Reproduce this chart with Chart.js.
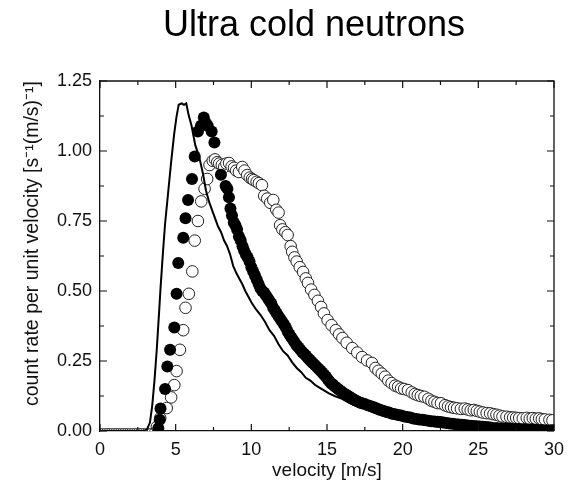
<!DOCTYPE html>
<html>
<head>
<meta charset="utf-8">
<script src="https://cdn.jsdelivr.net/npm/chart.js@4.4.1/dist/chart.umd.min.js"></script>
<style>
  html, body { margin: 0; padding: 0; background: #fff; }
  #wrap { width: 572px; height: 495px; }
</style>
</head>
<body>
<div id="wrap"><canvas id="chart"></canvas></div>
<script>
const TITLE = 'Ultra cold neutrons';
const X_TITLE = 'velocity [m/s]';
const Y_TITLE = 'count rate per unit velocity [s\u207B\u00B9(m/s)\u207B\u00B9]';

// solid curve
const lineVelocity = [0, 2.9, 3.1, 3.3, 3.45, 3.6, 3.75, 3.9, 4.0, 4.15, 4.3, 4.5, 4.7, 4.9, 5.05, 5.2, 5.4, 5.55, 5.7, 5.85,
  6.05, 6.3, 6.55, 6.8, 7.0, 7.2, 7.4, 7.6, 7.8, 8.0, 8.2, 8.4, 8.6, 8.8, 9.0, 9.2, 9.4, 9.6, 9.8, 10.0,
  10.3, 10.6, 10.9, 11.2, 11.5, 11.8, 12.1, 12.4, 12.7, 13.0, 13.3, 13.6, 13.9, 14.2, 14.5, 14.8, 15.1, 15.5, 16.0, 16.5,
  17.0, 17.5, 18.0, 18.5, 19.0, 20, 21, 22, 23, 24, 25, 26];
const lineRate = [0, 0, 0.005, 0.03, 0.09, 0.18, 0.29, 0.42, 0.51, 0.63, 0.74, 0.85, 0.96, 1.06, 1.12, 1.165, 1.17, 1.165, 1.17, 1.13,
  1.09, 1.02, 0.98, 0.92, 0.86, 0.82, 0.79, 0.76, 0.73, 0.71, 0.68, 0.66, 0.63, 0.59, 0.565, 0.545, 0.525, 0.50, 0.48, 0.46,
  0.435, 0.415, 0.39, 0.36, 0.34, 0.31, 0.285, 0.27, 0.245, 0.225, 0.21, 0.19, 0.18, 0.165, 0.155, 0.145, 0.135, 0.125, 0.115, 0.10,
  0.09, 0.08, 0.068, 0.058, 0.05, 0.038, 0.027, 0.018, 0.012, 0.007, 0.003, 0];

// filled circles
const filledVelocity = [3.85, 3.95, 4.0, 4.3, 4.45, 4.63, 4.91, 5.06, 5.17, 5.5, 5.65, 5.82, 6.08, 6.26, 6.47, 6.67, 6.86, 7.0, 7.12, 7.38,
  7.56, 7.99, 8.3, 8.42, 8.52, 8.62, 8.72, 8.84, 8.95, 9.06, 9.18, 9.3, 9.42, 9.52, 9.64, 9.76, 9.88, 10.0, 10.12, 10.24,
  10.36, 10.48, 10.6, 10.72, 10.84, 10.96, 11.08, 11.2, 11.32, 11.44, 11.56, 11.68, 11.8, 11.92, 12.04, 12.16, 12.28, 12.4, 12.52, 12.64,
  12.76, 12.88, 13.0, 13.12, 13.24, 13.36, 13.48, 13.6, 13.72, 13.84, 13.96, 14.08, 14.2, 14.32, 14.44, 14.56, 14.68, 14.8, 14.92, 15.04,
  15.16, 15.28, 15.4, 15.52, 15.64, 15.76, 15.88, 16.0, 16.12, 16.24, 16.36, 16.48, 16.6, 16.72, 16.84, 16.96, 17.08, 17.2, 17.32, 17.5,
  17.7, 17.9, 18.1, 18.3, 18.5, 18.7, 18.9, 19.1, 19.3, 19.5, 19.7, 19.9, 20.1, 20.3, 20.5, 20.7, 20.9, 21.1, 21.3, 21.5,
  21.7, 21.9, 22.1, 22.3, 22.5, 22.7, 22.9, 23.1, 23.3, 23.5, 23.7, 23.9, 24.1, 24.3, 24.5, 24.7, 24.9, 25.1, 25.3, 25.5,
  25.7, 25.9, 26.2, 26.5, 26.8, 27.1, 27.4, 27.7, 28.0, 28.3, 28.6, 28.9, 29.2, 29.5, 29.8, 30.0];
const filledRate = [0.01, 0.04, 0.08, 0.15, 0.23, 0.29, 0.37, 0.49, 0.60, 0.69, 0.76, 0.825, 0.90, 0.98, 1.07, 1.09, 1.12, 1.10, 1.09, 1.07,
  1.03, 0.915, 0.875, 0.865, 0.835, 0.795, 0.77, 0.745, 0.735, 0.72, 0.695, 0.68, 0.66, 0.645, 0.63, 0.62, 0.605, 0.585, 0.57, 0.555,
  0.54, 0.525, 0.51, 0.50, 0.495, 0.485, 0.475, 0.465, 0.455, 0.44, 0.43, 0.42, 0.41, 0.40, 0.39, 0.38, 0.37, 0.355, 0.345, 0.335,
  0.325, 0.315, 0.305, 0.298, 0.29, 0.282, 0.276, 0.27, 0.262, 0.255, 0.248, 0.242, 0.236, 0.229, 0.222, 0.216, 0.209, 0.202, 0.195, 0.186,
  0.178, 0.17, 0.165, 0.159, 0.154, 0.149, 0.144, 0.139, 0.134, 0.13, 0.126, 0.122, 0.118, 0.114, 0.11, 0.107, 0.104, 0.101, 0.099, 0.096,
  0.092, 0.088, 0.085, 0.08, 0.076, 0.072, 0.069, 0.066, 0.062, 0.06, 0.057, 0.055, 0.052, 0.05, 0.048, 0.045, 0.043, 0.041, 0.04, 0.038,
  0.037, 0.035, 0.034, 0.033, 0.032, 0.03, 0.029, 0.027, 0.026, 0.024, 0.023, 0.022, 0.021, 0.02, 0.019, 0.018, 0.017, 0.016, 0.015, 0.014,
  0.013, 0.012, 0.011, 0.01, 0.009, 0.008, 0.007, 0.007, 0.006, 0.005, 0.005, 0.004, 0.004, 0.003, 0.003, 0.003];

// open circles
const openVelocity = [3.76, 3.98, 4.41, 4.7, 4.91, 5.06, 5.28, 5.5, 5.65, 5.87, 6.1, 6.26, 6.47, 6.69, 6.91, 7.08, 7.24, 7.45, 7.6, 7.75,
  7.88, 8.05, 8.21, 8.35, 8.53, 8.7, 8.86, 9.0, 9.18, 9.4, 9.55, 9.73, 9.9, 10.05, 10.16, 10.35, 10.5, 10.7, 10.85, 11.05,
  11.25, 11.45, 11.65, 11.8, 11.9, 12.05, 12.25, 12.4, 12.6, 12.7, 12.85, 13.0, 13.2, 13.42, 13.6, 13.74, 13.95, 14.17, 14.4, 14.61,
  14.8, 15.04, 15.3, 15.58, 15.8, 16.02, 16.3, 16.67, 17.0, 17.32, 17.65, 17.97, 18.2, 18.4, 18.62, 18.84, 19.05, 19.27, 19.5, 19.7,
  19.9, 20.1, 20.35, 20.6, 20.8, 21.0, 21.2, 21.44, 21.7, 21.9, 22.1, 22.3, 22.53, 22.8, 23.0, 23.2, 23.4, 23.6, 23.85, 24.1,
  24.3, 24.5, 24.7, 24.9, 25.1, 25.3, 25.55, 25.78, 26.0, 26.2, 26.4, 26.6, 26.86, 27.1, 27.3, 27.5, 27.7, 27.94, 28.2, 28.4,
  28.6, 28.8, 29.02, 29.2, 29.4, 29.7, 29.9];
const openRate = [0.015, 0.046, 0.082, 0.12, 0.164, 0.214, 0.29, 0.36, 0.44, 0.49, 0.57, 0.68, 0.75, 0.82, 0.865, 0.90, 0.95, 0.965, 0.97, 0.96,
  0.955, 0.95, 0.943, 0.955, 0.957, 0.945, 0.94, 0.93, 0.925, 0.943, 0.93, 0.914, 0.905, 0.90, 0.896, 0.89, 0.885, 0.878, 0.84, 0.83,
  0.815, 0.825, 0.79, 0.78, 0.735, 0.72, 0.71, 0.70, 0.66, 0.64, 0.62, 0.605, 0.585, 0.568, 0.545, 0.529, 0.505, 0.486, 0.465, 0.443,
  0.42, 0.396, 0.378, 0.36, 0.345, 0.332, 0.315, 0.296, 0.28, 0.264, 0.252, 0.243, 0.225, 0.215, 0.205, 0.194, 0.18, 0.171, 0.162, 0.158,
  0.152, 0.15, 0.146, 0.138, 0.132, 0.128, 0.125, 0.122, 0.115, 0.108, 0.104, 0.10, 0.099, 0.092, 0.088, 0.085, 0.083, 0.081, 0.079, 0.08,
  0.077, 0.074, 0.075, 0.072, 0.069, 0.066, 0.064, 0.063, 0.06, 0.058, 0.055, 0.052, 0.051, 0.049, 0.048, 0.047, 0.046, 0.045, 0.047, 0.044,
  0.046, 0.044, 0.045, 0.042, 0.041, 0.04, 0.038];

// empty channels along the baseline
const zeroVelocity = [0, 0.15, 0.3, 0.45, 0.6, 0.75, 0.9, 1.05, 1.2, 1.35, 1.5, 1.65, 1.8, 1.95, 2.1, 2.25, 2.4, 2.55, 2.7, 2.85, 3.0, 3.15, 3.3, 3.45];

const X_MAX = 30;
const Y_MAX = 1.25;
const FONT = "'Liberation Sans', Arial, sans-serif";
const INK = '#111';

const points = (xs, ys) => xs.map((x, i) => ({ x, y: ys ? ys[i] : 0 }));

// frame, inward ticks and the chart title
const framePlugin = {
  id: 'frame',
  afterDatasetsDraw(chart) {
    const { ctx, chartArea: a, scales: { x, y } } = chart;
    ctx.save();
    ctx.strokeStyle = INK;
    ctx.lineWidth = 1.3;
    ctx.beginPath();
    ctx.moveTo(a.left, a.top);
    ctx.lineTo(a.right, a.top);
    ctx.lineTo(a.right, a.bottom);
    ctx.stroke();

    ctx.lineWidth = 1.2;
    ctx.beginPath();
    for (let v = 0; v <= X_MAX + 1e-9; v += 2.5) {
      const px = x.getPixelForValue(v);
      const len = v % 5 === 0 ? 7 : 4;
      ctx.moveTo(px, a.bottom); ctx.lineTo(px, a.bottom - len);
      ctx.moveTo(px, a.top); ctx.lineTo(px, a.top + len);
    }
    for (let v = 0; v <= Y_MAX + 1e-9; v += 0.125) {
      const py = y.getPixelForValue(v);
      const len = Math.round(v * 8) % 2 === 0 ? 7 : 4;
      ctx.moveTo(a.left, py); ctx.lineTo(a.left + len, py);
      ctx.moveTo(a.right, py); ctx.lineTo(a.right - len, py);
    }
    ctx.stroke();

    ctx.fillStyle = '#000';
    ctx.font = `36px ${FONT}`;
    ctx.textAlign = 'center';
    ctx.textBaseline = 'alphabetic';
    ctx.fillText(TITLE, 314, 36);
    ctx.restore();
  }
};

new Chart(document.getElementById('chart'), {
  type: 'scatter',
  data: {
    datasets: [
      {
        label: 'calculated',
        data: points(lineVelocity, lineRate),
        showLine: true,
        borderColor: '#000',
        borderWidth: 2,
        pointRadius: 0,
        tension: 0,
        clip: 0,
        order: 1
      },
      {
        label: 'filled',
        data: points(filledVelocity, filledRate),
        pointRadius: 6,
        pointBackgroundColor: '#000',
        pointBorderColor: '#000',
        pointBorderWidth: 0,
        clip: 0,
        order: 2
      },
      {
        label: 'open',
        data: points(openVelocity, openRate),
        pointRadius: 5.8,
        pointBackgroundColor: '#fff',
        pointBorderColor: '#222',
        pointBorderWidth: 1,
        clip: 0,
        order: 3
      },
      {
        label: 'zero',
        data: points(zeroVelocity),
        pointRadius: 2.5,
        pointBackgroundColor: '#fff',
        pointBorderColor: '#333',
        pointBorderWidth: 1,
        clip: 0,
        order: 4
      }
    ]
  },
  options: {
    responsive: true,
    maintainAspectRatio: false,
    animation: false,
    layout: { padding: { top: 81, right: 11, bottom: 0, left: 0 } },
    plugins: {
      legend: { display: false },
      tooltip: { enabled: false }
    },
    scales: {
      x: {
        type: 'linear',
        min: 0,
        max: X_MAX,
        afterFit: s => { s.height = 64; },
        grid: { display: false, drawTicks: false },
        border: { display: true, color: INK, width: 1.3 },
        ticks: { stepSize: 5, padding: 8, color: INK, font: { family: FONT, size: 18 } },
        title: {
          display: true,
          text: X_TITLE,
          color: INK,
          font: { family: FONT, size: 19 },
          padding: { top: 0, bottom: 13 }
        }
      },
      y: {
        type: 'linear',
        min: 0,
        max: Y_MAX,
        afterFit: s => { s.width = 100; },
        grid: { display: false, drawTicks: false },
        border: { display: true, color: INK, width: 1.3 },
        ticks: {
          stepSize: 0.25,
          padding: 8,
          color: INK,
          font: { family: FONT, size: 18 },
          callback: v => v.toFixed(2)
        },
        title: {
          display: true,
          text: Y_TITLE,
          align: 'end',
          color: INK,
          font: { family: FONT, size: 19.5 },
          padding: { top: 21, bottom: 0 }
        }
      }
    }
  },
  plugins: [framePlugin]
});
</script>
</body>
</html>
